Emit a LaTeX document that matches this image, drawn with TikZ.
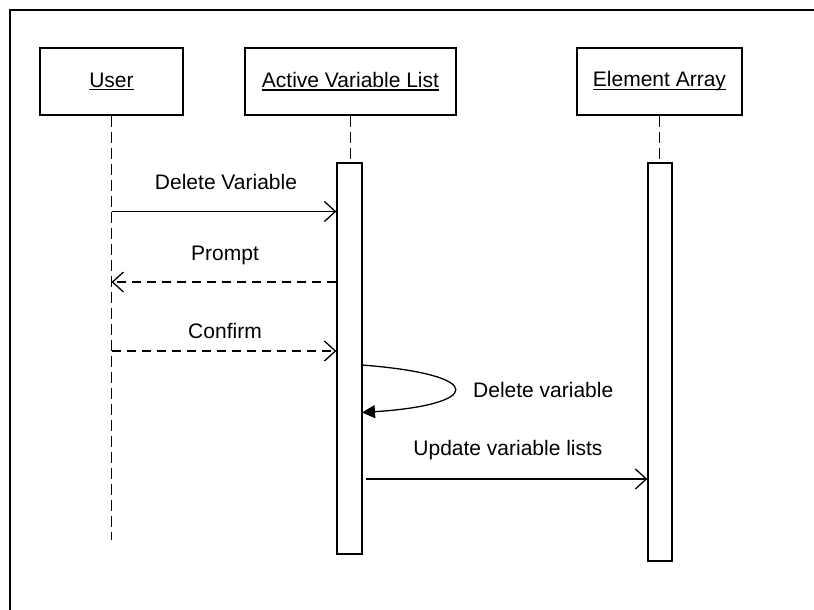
\documentclass[tikz,border=0pt]{standalone}
\usepackage{fontspec}
\setmainfont{Liberation Sans}
\usetikzlibrary{arrows.meta}
\newcommand{\ulword}[1]{\setbox0\hbox{#1}\rlap{\copy0}\rule[-3.4pt]{\wd0}{1.4pt}}
\tikzset{
  every node/.style={font=\fontsize{21}{25}\selectfont},
  objbox/.style={draw, line width=1.3pt, minimum height=67pt, inner sep=0pt},
  actbar/.style={draw, line width=1.3pt, minimum width=24pt, inner sep=0pt, fill=white},
  lifeline/.style={line width=1.3pt, dash pattern=on 11pt off 5pt},
  msg/.style={line width=1.3pt, -{Straight Barb[length=11pt,width=20pt,line width=1.3pt]}},
  reply/.style={msg, dash pattern=on 9pt off 6pt},
  selfmsg/.style={line width=1.3pt, -{Triangle[length=13pt,width=13pt]}},
  lbl/.style={inner sep=0pt},
}
\begin{document}
\begin{tikzpicture}[x=1pt,y=-1pt]
\useasboundingbox (0,0) rectangle (814,610);
\fill[white] (0,0) rectangle (814,610);
\draw[line width=2pt] (9.5,610) -- (9.5,10.5) -- (814,10.5);

% objects
\node[objbox, minimum width=143pt] (user) at (111.5,81.5) {\ulword{User}};
\node[objbox, minimum width=211pt] (avl) at (350.5,81.5) {\ulword{Active Variable List}};
\node[objbox, minimum width=165pt] (ea) at (659.5,81.5) {\ulword{Element Array}};

% helper coordinates
\coordinate (uend) at (0,540);
\coordinate (y1) at (0,211.5);
\coordinate (y2) at (0,282);
\coordinate (y3) at (0,351);
\coordinate (y4) at (0,479);

% lifelines
\draw[lifeline] (user.south) -- (user.south |- uend);
\node[actbar, minimum width=25pt, minimum height=391pt] (avlbar) at (349.5,358.5) {};
\node[actbar, minimum height=398pt] (eabar) at (660,362) {};
\draw[lifeline] (avl.south) -- (avl.south |- avlbar.north);
\draw[lifeline] (ea.south) -- (ea.south |- eabar.north);

% messages
\draw[msg] (user.south |- y1) -- (avlbar.west |- y1);
\node[lbl] (l1) at (226,182) {Delete Variable};
\draw[reply] (avlbar.west |- y2) -- (user.south |- y2);
\node[lbl] (l2) at (225,255) {Prompt};
\draw[reply] (user.south |- y3) -- (avlbar.west |- y3);
\node[lbl] (l3) at (225,331) {Confirm};

\coordinate (s1) at (362,365);
\coordinate (s2) at (362,412.5);
\draw[selfmsg] (s1) .. controls (490,375) and (480,405) .. (s2);
\node[lbl, anchor=west] (l4) at (473,390) {Delete variable};

\draw[msg] (avlbar.east |- y4) ++(3,0) coordinate (u0) (u0) -- (eabar.west |- y4);
\node[lbl] (l5) at (508,450) {Update variable lists};
\end{tikzpicture}
\end{document}
